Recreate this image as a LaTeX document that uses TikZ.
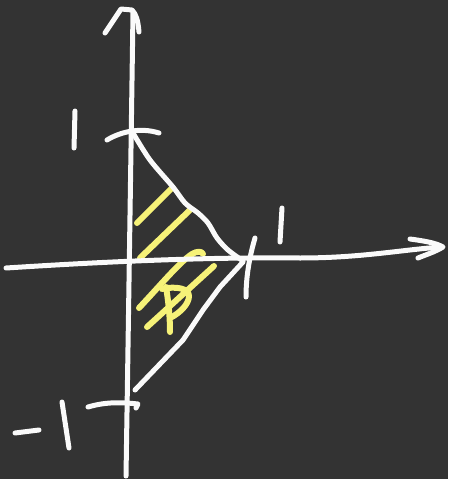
\documentclass[tikz,border=0pt]{standalone}
\usepackage{tikz}
\definecolor{bg}{RGB}{51,51,51}
\definecolor{chalk}{RGB}{250,250,250}
\definecolor{hl}{RGB}{246,242,120}
\tikzset{
  pen/.style={draw=chalk,line width=5pt,line cap=round,line join=round},
  hlpen/.style={draw=hl,line width=6pt,line cap=round,line join=round}
}
\begin{document}
\begin{tikzpicture}[x=1pt,y=-1pt]
\fill[bg] (0,0) rectangle (448,479);
\useasboundingbox (0,0) rectangle (448,479);
% hatching (yellow)
\draw[hlpen] (137,223) -- (172,188);
\draw[hlpen] (140,258) -- (190,210);
\draw[hlpen] (139,308) .. controls (165,280) and (180,262) .. (192,254) .. controls (197,251) and (202,251) .. (203,254);
\draw[hlpen] (147,327) -- (214,266);
\draw[hlpen] (166,287) .. controls (169,305) and (170,320) .. (170,332);
\draw[hlpen] (162,289) .. controls (175,286) and (189,288) .. (189,296) .. controls (189,304) and (180,313) .. (170,318);
% vertical axis
\draw[pen] (126,476) .. controls (128,350) and (131,150) .. (133,12);
\draw[pen] (105,33) -- (121,9) -- (132,10) .. controls (136,14) and (138,20) .. (139,32);
% horizontal axis
\draw[pen] (6,268) .. controls (100,262) and (200,257) .. (300,258) .. controls (360,258) and (400,250) .. (441,247);
\draw[pen] (410,239) .. controls (425,241) and (436,243) .. (443,247) .. controls (435,252) and (425,255) .. (418,258);
% ticks
\draw[pen] (107,140) .. controls (120,132) and (140,127) .. (159,133);
\draw[pen] (88,407) .. controls (105,402) and (120,402) .. (138,404) -- (136,408);
\draw[pen] (255,238) .. controls (250,255) and (246,275) .. (246,297);
% labels
\draw[pen] (75,111) -- (74,148);
\draw[pen] (15,433) -- (39,430);
\draw[pen] (62,402) -- (69,448);
\draw[pen] (282,208) -- (280,242);
% triangle
\draw[pen] plot[smooth] coordinates {(133,133) (150,160) (173,187) (185,203) (198,213) (208,223) (217,238) (228,250) (243,261)};
\draw[pen] (243,262) -- (220,287) -- (203,310) -- (183,340) -- (135,390);
\end{tikzpicture}
\end{document}
